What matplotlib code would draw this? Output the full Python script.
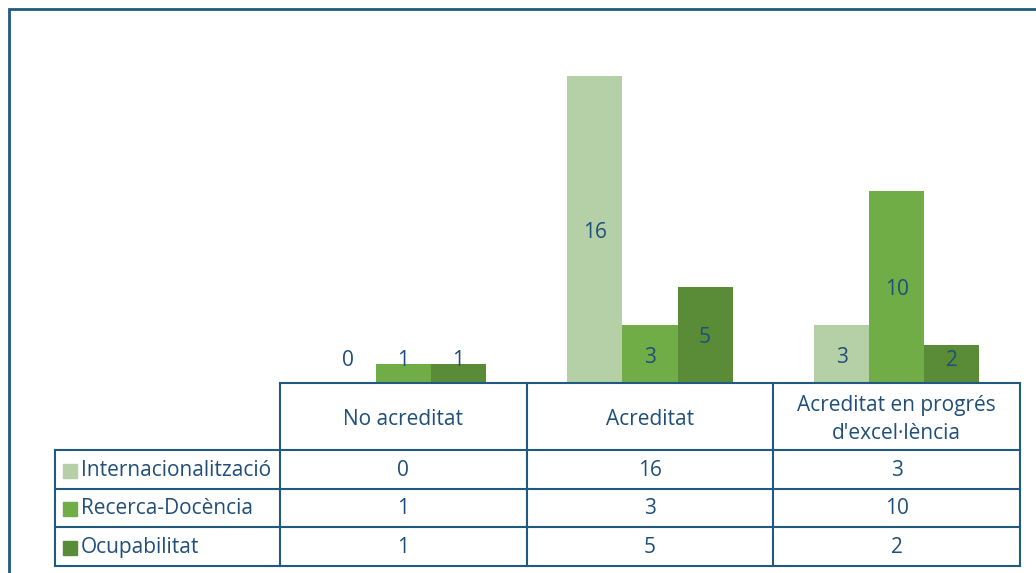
import matplotlib.pyplot as plt
from matplotlib.patches import Rectangle
from matplotlib.lines import Line2D
import numpy as np

# dades
categories = ['No acreditat', 'Acreditat', "Acreditat en progrés\nd'excel·lència"]
series = ['Internacionalització', 'Recerca-Docència', 'Ocupabilitat']
internacionalitzacio = [0, 16, 3]
recerca_docencia = [1, 3, 10]
ocupabilitat = [1, 5, 2]
valors = [internacionalitzacio, recerca_docencia, ocupabilitat]
colors = ['#b5cfa7', '#70ad47', '#5a8c38']

text_color = '#1f4e79'
line_color = '#215a80'
plt.rcParams['font.family'] = ['Open Sans', 'DejaVu Sans']
fs = 15

W, H = 1036, 573
fig = plt.figure(figsize=(W / 100, H / 100), dpi=100)


def fx(px):
    return px / W


def fy(py):
    return 1 - py / H


# marc exterior
fig.add_artist(Rectangle((fx(9), fy(H + 20)), fx(W + 20), fy(9) - fy(H + 20),
                         transform=fig.transFigure, fill=False,
                         edgecolor=line_color, linewidth=2))

# eix de barres
x_left, x_right, y_base, y_top = 280, 1020, 383, 20
ax = fig.add_axes([fx(x_left), fy(y_base), fx(x_right - x_left), fy(y_top) - fy(y_base)])
ax.set_xlim(-0.5, 2.5)
ax.set_ylim(0, 18.9)
ax.axis('off')

x = np.arange(len(categories))
w = 0.223
for j, (vals, c) in enumerate(zip(valors, colors)):
    pos = x + (j - 1) * w
    ax.bar(pos, vals, width=w, color=c, edgecolor='none')
    for p, v in zip(pos, vals):
        ax.text(p, max(v / 2, 1.3) - 0.15, str(v), ha='center', va='center',
                fontsize=fs, color=text_color)

# taula de dades
col_w = (x_right - x_left) / len(categories)
col_edges = [x_left + i * col_w for i in range(len(categories) + 1)]
row_edges = [383, 450, 489, 527, 566]
lab_left = 55


def hline(y, x0, x1):
    fig.add_artist(Line2D([fx(x0), fx(x1)], [fy(y), fy(y)], transform=fig.transFigure,
                          color=line_color, linewidth=1.5))


def vline(xp, y0, y1):
    fig.add_artist(Line2D([fx(xp), fx(xp)], [fy(y0), fy(y1)], transform=fig.transFigure,
                          color=line_color, linewidth=1.5))


hline(row_edges[0], x_left, x_right)
for y in row_edges[1:]:
    hline(y, lab_left, x_right)
for xe in col_edges:
    vline(xe, row_edges[0], row_edges[-1])
vline(lab_left, row_edges[1], row_edges[-1])

for i, cat in enumerate(categories):
    cx = (col_edges[i] + col_edges[i + 1]) / 2
    fig.text(fx(cx), fy((row_edges[0] + row_edges[1]) / 2 + 3), cat, ha='center', va='center',
             fontsize=fs, color=text_color, linespacing=1.4)

for r, (name, vals, c) in enumerate(zip(series, valors, colors)):
    cy = (row_edges[r + 1] + row_edges[r + 2]) / 2 + 1
    fig.add_artist(Rectangle((fx(63), fy(cy + 7)), fx(14), fy(cy - 7) - fy(cy + 7),
                             transform=fig.transFigure, color=c))
    fig.text(fx(81), fy(cy), name, ha='left', va='center', fontsize=fs, color=text_color)
    for i, v in enumerate(vals):
        cx = (col_edges[i] + col_edges[i + 1]) / 2
        fig.text(fx(cx), fy(cy), str(v), ha='center', va='center', fontsize=fs, color=text_color)

fig.savefig('out.png', dpi=100)
